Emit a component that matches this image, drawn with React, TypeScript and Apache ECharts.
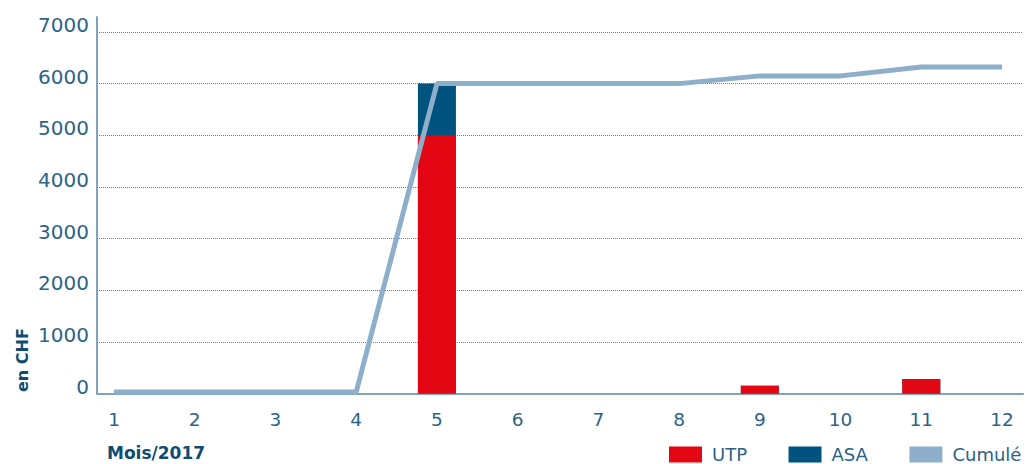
import React, { useEffect, useRef } from "react";
import * as echarts from "echarts";

const months = [1, 2, 3, 4, 5, 6, 7, 8, 9, 10, 11, 12];
const utp = [0, 0, 0, 0, 5000, 0, 0, 0, 150, 0, 280, 0];
const asa = [0, 0, 0, 0, 1000, 0, 0, 0, 0, 0, 0, 0];
const cumule = [30, 30, 30, 30, 6000, 6000, 6000, 6000, 6150, 6150, 6320, 6320];
const yTickValues = [0, 1000, 2000, 3000, 4000, 5000, 6000, 7000];

const RED = "#e30613";
const DARK = "#00527f";
const LIGHT = "#8eafca";
const LABEL = "#2c6386";
const TITLE = "#0f4b73";
const AXIS = "#7fa3bb";
const FONT = "DejaVu Sans";

export default function App() {
  const ref = useRef<HTMLDivElement>(null);
  useEffect(() => {
    if (!ref.current) return;
    const chart = echarts.init(ref.current, undefined, { renderer: "svg" });
    // ASA is stacked on top of UTP: its bar is drawn from 0 to UTP+ASA, and UTP overlaps it.
    const stackTop = utp.map((v, i) => v + asa[i]);
    chart.setOption({
      animation: false,
      backgroundColor: "#ffffff",
      textStyle: { fontFamily: FONT },
      grid: { left: 97, right: 4, top: 17, bottom: 70.5 },
      xAxis: {
        type: "value",
        min: 0.789,
        max: 12.26,
        axisLine: { show: true, onZero: false, lineStyle: { color: AXIS, width: 2 } },
        axisTick: { show: false },
        splitLine: { show: false },
        axisLabel: {
          customValues: months,
          formatter: (v: number) => String(Math.round(v)),
          color: LABEL,
          fontFamily: FONT,
          fontSize: 18.5,
          lineHeight: 18,
          verticalAlign: "top",
          margin: 17,
        },
      },
      yAxis: {
        type: "value",
        min: 0,
        max: 7290,
        interval: 1000,
        axisLine: { show: true, onZero: false, lineStyle: { color: AXIS, width: 2 } },
        axisTick: { show: false },
        axisLabel: {
          customValues: yTickValues,
          formatter: (v: number) => String(Math.round(v)),
          color: LABEL,
          fontFamily: FONT,
          fontSize: 20,
          lineHeight: 14,
          verticalAlign: "bottom",
          margin: 8,
        },
        splitLine: {
          show: true,
          showMaxLine: false,
          lineStyle: { color: "#5a84a0", type: "dotted", width: 1 },
        },
      },
      legend: {
        left: 669,
        top: 445.5,
        padding: 0,
        itemWidth: 33,
        itemHeight: 16,
        itemGap: 41.5,
        icon: "rect",
        textStyle: {
          color: LABEL,
          fontFamily: FONT,
          fontSize: 18,
          lineHeight: 18,
          padding: [0, 0, 0, 5],
        },
        data: ["UTP", "ASA", "Cumulé"],
      },
      graphic: [
        {
          type: "text",
          left: 107,
          top: 444,
          style: { text: "Mois/2017", fill: TITLE, font: `bold 17px '${FONT}'` },
        },
        {
          type: "text",
          x: 14,
          y: 392,
          rotation: Math.PI / 2,
          style: { text: "en CHF", fill: TITLE, font: `bold 16px '${FONT}'`, align: "left", verticalAlign: "top" },
        },
      ],
      series: [
        {
          name: "ASA",
          type: "bar",
          barWidth: 38,
          barGap: "-100%",
          itemStyle: { color: DARK },
          data: months.map((m, i) => [m, stackTop[i]]),
        },
        {
          name: "UTP",
          type: "bar",
          barWidth: 38,
          barGap: "-100%",
          itemStyle: { color: RED },
          data: months.map((m, i) => [m, utp[i]]),
        },
        {
          name: "Cumulé",
          type: "line",
          symbol: "none",
          lineStyle: { color: LIGHT, width: 5 },
          itemStyle: { color: LIGHT },
          data: months.map((m, i) => [m, cumule[i]]),
        },
      ],
    });
    return () => chart.dispose();
  }, []);
  return <div ref={ref} style={{ position: "fixed", left: 0, top: 0, width: 1027, height: 464 }} />;
}
